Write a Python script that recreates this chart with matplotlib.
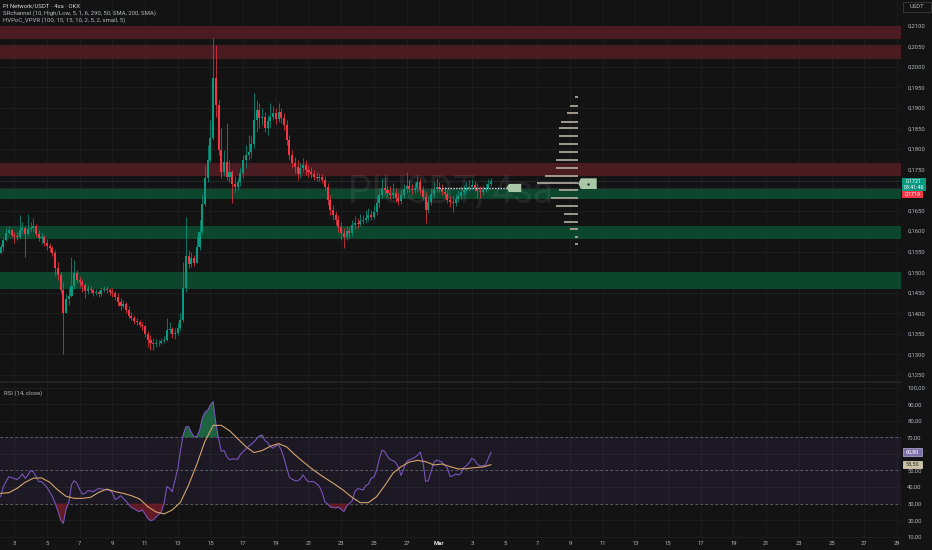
import numpy as np
import matplotlib
matplotlib.use("Agg")
import matplotlib.pyplot as plt
from matplotlib.patches import Rectangle, Polygon

plt.rcParams['font.family'] = ['Roboto', 'DejaVu Sans']

# ─────────────────────────────────────────────
# 4h candles PI/USDT (Feb 2 04:00 -> Mar 4 04:00), open = previous close
# ─────────────────────────────────────────────
first_open = 0.1547
close = [
    0.1561, 0.1578, 0.1595, 0.1603, 0.1590, 0.1588, 0.1586, 0.1603, 0.1608, 0.1593,
    0.1605, 0.1608, 0.1612, 0.1593, 0.1583, 0.1586, 0.1571, 0.1564, 0.1559, 0.1547,
    0.1510, 0.1493, 0.1457, 0.1401, 0.1435, 0.1442, 0.1466, 0.1498, 0.1481, 0.1476,
    0.1469, 0.1454, 0.1459, 0.1457, 0.1449, 0.1452, 0.1447, 0.1457, 0.1459, 0.1457,
    0.1452, 0.1449, 0.1440, 0.1427, 0.1418, 0.1422, 0.1408, 0.1393, 0.1388, 0.1381,
    0.1379, 0.1371, 0.1369, 0.1349, 0.1335, 0.1327, 0.1325, 0.1327, 0.1327, 0.1332,
    0.1335, 0.1359, 0.1362, 0.1349, 0.1352, 0.1364, 0.1384, 0.1461, 0.1539, 0.1520,
    0.1534, 0.1522, 0.1561, 0.1598, 0.1666, 0.1729, 0.1773, 0.1827, 0.1973, 0.1907,
    0.1797, 0.1744, 0.1768, 0.1732, 0.1744, 0.1715, 0.1707, 0.1720, 0.1741, 0.1773,
    0.1785, 0.1793, 0.1812, 0.1871, 0.1895, 0.1875, 0.1878, 0.1851, 0.1868, 0.1878,
    0.1888, 0.1873, 0.1890, 0.1875, 0.1858, 0.1822, 0.1785, 0.1766, 0.1756, 0.1739,
    0.1754, 0.1761, 0.1749, 0.1744, 0.1739, 0.1732, 0.1729, 0.1732, 0.1724, 0.1707,
    0.1676, 0.1651, 0.1639, 0.1627, 0.1610, 0.1595, 0.1586, 0.1600, 0.1595, 0.1615,
    0.1620, 0.1617, 0.1625, 0.1627, 0.1632, 0.1639, 0.1634, 0.1646, 0.1668, 0.1688,
    0.1705, 0.1700, 0.1693, 0.1688, 0.1693, 0.1681, 0.1673, 0.1688, 0.1703, 0.1710,
    0.1703, 0.1700, 0.1705, 0.1720, 0.1700, 0.1683, 0.1651, 0.1671, 0.1690, 0.1703,
    0.1707, 0.1703, 0.1695, 0.1690, 0.1676, 0.1671, 0.1668, 0.1678, 0.1685, 0.1695,
    0.1700, 0.1705, 0.1707, 0.1712, 0.1705, 0.1698, 0.1695, 0.1700, 0.1705, 0.1715, 0.1721,
]
high = [
    0.1569, 0.1583, 0.1608, 0.1612, 0.1605, 0.1598, 0.1598, 0.1639, 0.1622, 0.1612,
    0.1642, 0.1622, 0.1632, 0.1617, 0.1603, 0.1595, 0.1590, 0.1581, 0.1571, 0.1564,
    0.1554, 0.1525, 0.1500, 0.1476, 0.1447, 0.1461, 0.1537, 0.1530, 0.1505, 0.1491,
    0.1483, 0.1474, 0.1469, 0.1466, 0.1461, 0.1459, 0.1457, 0.1464, 0.1466, 0.1466,
    0.1461, 0.1461, 0.1454, 0.1449, 0.1437, 0.1432, 0.1427, 0.1418, 0.1403, 0.1396,
    0.1388, 0.1384, 0.1379, 0.1371, 0.1357, 0.1347, 0.1340, 0.1337, 0.1335, 0.1340,
    0.1345, 0.1388, 0.1379, 0.1366, 0.1364, 0.1376, 0.1401, 0.1525, 0.1634, 0.1554,
    0.1549, 0.1542, 0.1588, 0.1627, 0.1688, 0.1761, 0.1810, 0.1871, 0.2070, 0.2053,
    0.1919, 0.1851, 0.1797, 0.1863, 0.1773, 0.1749, 0.1734, 0.1729, 0.1754, 0.1785,
    0.1810, 0.1834, 0.1832, 0.1936, 0.1919, 0.1912, 0.1900, 0.1890, 0.1883, 0.1912,
    0.1905, 0.1900, 0.1912, 0.1900, 0.1888, 0.1871, 0.1834, 0.1797, 0.1780, 0.1773,
    0.1766, 0.1778, 0.1773, 0.1761, 0.1756, 0.1749, 0.1744, 0.1741, 0.1739, 0.1734,
    0.1717, 0.1688, 0.1664, 0.1649, 0.1639, 0.1622, 0.1608, 0.1612, 0.1610, 0.1627,
    0.1637, 0.1632, 0.1642, 0.1639, 0.1651, 0.1656, 0.1651, 0.1664, 0.1685, 0.1705,
    0.1729, 0.1732, 0.1712, 0.1710, 0.1717, 0.1705, 0.1693, 0.1700, 0.1715, 0.1744,
    0.1724, 0.1715, 0.1720, 0.1734, 0.1729, 0.1710, 0.1695, 0.1685, 0.1705, 0.1720,
    0.1729, 0.1720, 0.1715, 0.1707, 0.1700, 0.1688, 0.1685, 0.1690, 0.1700, 0.1710,
    0.1712, 0.1720, 0.1724, 0.1727, 0.1722, 0.1717, 0.1710, 0.1712, 0.1717, 0.1727, 0.1729,
]
low = [
    0.1544, 0.1552, 0.1576, 0.1593, 0.1586, 0.1571, 0.1578, 0.1583, 0.1595, 0.1537,
    0.1590, 0.1598, 0.1600, 0.1588, 0.1576, 0.1569, 0.1564, 0.1554, 0.1549, 0.1539,
    0.1493, 0.1481, 0.1449, 0.1301, 0.1403, 0.1420, 0.1440, 0.1459, 0.1474, 0.1464,
    0.1452, 0.1437, 0.1447, 0.1449, 0.1442, 0.1444, 0.1440, 0.1442, 0.1452, 0.1449,
    0.1444, 0.1440, 0.1432, 0.1418, 0.1408, 0.1413, 0.1401, 0.1388, 0.1384, 0.1374,
    0.1371, 0.1366, 0.1359, 0.1342, 0.1318, 0.1310, 0.1310, 0.1318, 0.1320, 0.1325,
    0.1327, 0.1332, 0.1352, 0.1340, 0.1337, 0.1347, 0.1359, 0.1379, 0.1452, 0.1510,
    0.1513, 0.1515, 0.1525, 0.1554, 0.1593, 0.1661, 0.1720, 0.1768, 0.1822, 0.1878,
    0.1785, 0.1729, 0.1734, 0.1724, 0.1720, 0.1668, 0.1695, 0.1700, 0.1710, 0.1729,
    0.1754, 0.1773, 0.1778, 0.1802, 0.1841, 0.1851, 0.1858, 0.1841, 0.1834, 0.1854,
    0.1871, 0.1861, 0.1866, 0.1863, 0.1846, 0.1810, 0.1773, 0.1754, 0.1741, 0.1724,
    0.1729, 0.1744, 0.1737, 0.1732, 0.1729, 0.1724, 0.1722, 0.1722, 0.1717, 0.1700,
    0.1664, 0.1639, 0.1627, 0.1615, 0.1598, 0.1578, 0.1559, 0.1578, 0.1583, 0.1588,
    0.1605, 0.1608, 0.1612, 0.1617, 0.1620, 0.1625, 0.1627, 0.1629, 0.1639, 0.1659,
    0.1681, 0.1690, 0.1683, 0.1678, 0.1681, 0.1671, 0.1664, 0.1666, 0.1681, 0.1693,
    0.1695, 0.1690, 0.1693, 0.1695, 0.1690, 0.1676, 0.1620, 0.1644, 0.1664, 0.1683,
    0.1695, 0.1695, 0.1688, 0.1683, 0.1668, 0.1659, 0.1647, 0.1661, 0.1671, 0.1678,
    0.1688, 0.1693, 0.1698, 0.1700, 0.1698, 0.1681, 0.1681, 0.1688, 0.1695, 0.1700, 0.1710,
]

# RSI (14, close), one value per candle
rsi = [
    34.2, 40.3, 43.3, 46.3, 45.7, 45.1, 44.5, 45.9, 47.9, 45.3,
    47.3, 49.9, 49.3, 46.3, 43.3, 43.3, 41.7, 39.8, 37.2, 34.2,
    30.2, 25.8, 20.2, 18.1, 26.6, 30.6, 41.3, 43.9, 42.3, 38.6,
    35.8, 36.2, 37.8, 37.6, 37.2, 38.2, 39.2, 38.8, 38.6, 38.2,
    38.0, 36.6, 32.6, 33.2, 34.8, 33.2, 31.6, 29.4, 27.6, 27.0,
    25.8, 25.2, 26.2, 23.8, 21.2, 19.8, 20.2, 21.8, 23.4, 25.0,
    30.2, 40.3, 39.2, 37.2, 44.3, 50.7, 62.0, 71.4, 76.4, 76.4,
    72.8, 70.4, 70.4, 74.0, 81.5, 85.1, 86.3, 89.5, 91.5, 78.4,
    69.4, 61.6, 62.0, 58.3, 56.5, 56.9, 56.9, 56.7, 59.7, 61.4,
    62.8, 64.6, 65.8, 67.2, 69.2, 70.8, 71.4, 68.0, 66.8, 64.4,
    63.4, 64.8, 65.4, 62.4, 57.3, 51.7, 45.9, 44.7, 43.9, 43.7,
    44.9, 47.3, 44.9, 43.1, 43.3, 43.3, 41.9, 40.3, 36.8, 31.2,
    29.8, 28.0, 27.6, 27.4, 27.8, 26.6, 25.2, 28.4, 30.0, 31.6,
    37.2, 39.0, 38.8, 38.2, 40.9, 41.7, 45.3, 46.1, 49.9, 57.1,
    62.2, 61.4, 58.3, 56.7, 55.9, 54.9, 51.9, 46.9, 51.3, 55.3,
    56.5, 57.1, 57.9, 59.1, 61.2, 55.3, 43.3, 43.9, 49.3, 54.7,
    56.3, 55.7, 55.1, 53.3, 51.3, 46.3, 46.7, 47.9, 47.3, 48.3,
    51.7, 52.9, 54.7, 57.3, 56.3, 53.7, 52.7, 52.9, 53.3, 57.3, 60.8,
]
# RSI-based MA, read every 3rd candle
ma_step = 3
rsi_ma = [
    36.2, 36.6, 39.2, 42.9, 45.3, 45.5, 42.9, 38.2, 34.4, 33.2,
    33.2, 33.8, 36.8, 38.8, 37.2, 36.2, 34.8, 32.8, 28.2, 25.0,
    23.8, 26.2, 30.8, 41.3, 53.7, 67.6, 77.2, 77.2, 74.0, 69.2,
    64.4, 60.8, 62.0, 64.6, 66.2, 64.2, 59.5, 55.3, 51.3, 47.7,
    44.5, 41.3, 37.8, 33.8, 30.6, 30.6, 34.2, 40.9, 48.3, 52.3,
    55.1, 56.1, 55.3, 53.3, 53.9, 52.3, 50.9, 51.1, 51.7, 52.1, 53.5,
]

# SRchannel zones (low, high)
res_zones = [(0.2068, 0.2100), (0.2018, 0.2053), (0.1733, 0.1765)]
sup_zones = [(0.1677, 0.1704), (0.1580, 0.1612), (0.1460, 0.1501)]

# HVPoC_VPVR rows
vp_prices = [0.1926, 0.1905, 0.1888, 0.1866, 0.1851, 0.1832, 0.1812, 0.1793, 0.1773, 0.1754,
             0.1734, 0.1717, 0.1700, 0.1681, 0.1661, 0.1642, 0.1622, 0.1605, 0.1586, 0.1569]
vp_volume = [3, 8, 11, 17, 19, 19, 19, 19, 22, 22, 33, 41, 19, 27, 22, 14, 14, 8, 3, 3]
vp_anchor = 212          # candle index where the profile ends
vp_poc = 0.1716
hv_poc = 0.1706          # recent HV PoC (dotted)
hv_start, hv_end = 161, 185.7

# x axis: day labels every 2 days, Feb 3 00:00 is candle 5
tick_idx = [5 + 12 * k for k in range(28)]
tick_lab = ['3', '5', '7', '9', '11', '13', '15', '17', '19', '21', '23', '25', '27', 'Mar',
            '3', '5', '7', '9', '11', '13', '15', '17', '19', '21', '23', '25', '27', '29']
price_ticks = np.arange(0.125, 0.2101, 0.005)
rsi_ticks = np.arange(10, 101, 10)
# axis labels hidden behind the value boxes
hidden_price = 0.1700
hidden_rsi = 60

# ─────────────────────────────────────────────
BG = '#131313'
GRID = '#1d1d1d'
UP = '#089981'
DOWN = '#f23645'
TXT = '#b2b5be'
W, H = 932, 550

def fx(px):
    return px / W

def fy(py):
    return 1 - py / H

fig = plt.figure(figsize=(W / 100, H / 100), dpi=100, facecolor=BG)
ax = fig.add_axes([0, fy(381), fx(901), 381 / H], facecolor=BG)
ax_r = fig.add_axes([0, fy(538), fx(901), 155 / H], facecolor=BG, sharex=ax)

close = np.array(close)
high = np.array(high)
low = np.array(low)
rsi = np.array(rsi)
n = len(close)
idx = np.arange(n)
opens = np.concatenate([[first_open], close[:-1]])
is_up = close >= opens
cols = np.where(is_up, UP, DOWN)
hi = np.maximum(high, np.maximum(opens, close))
lo = np.minimum(low, np.minimum(opens, close))

# grid
for p in price_ticks:
    ax.axhline(p, color=GRID, lw=0.7, zorder=0.5)
for t in tick_idx:
    ax.axvline(t, color=GRID, lw=0.7, zorder=0.5)
    ax_r.axvline(t, color=GRID, lw=0.7, zorder=0.5)
for v in rsi_ticks:
    ax_r.axhline(v, color=GRID, lw=0.7, zorder=0.5)

# zones
for z0, z1 in res_zones:
    ax.axhspan(z0, z1, color='#4a1c21', lw=0, zorder=1)
for z0, z1 in sup_zones:
    ax.axhspan(z0, z1, color='#0c462d', lw=0, zorder=1)
ax.axhline(0.1722, color='#22272b', lw=0.8, zorder=1)
ax.axhline(0.1704, color='#22272b', lw=0.8, zorder=1)

# watermark
ax.text(0.5, 0.497, 'PIUSDT, 4sa', transform=ax.transAxes, ha='center', va='center',
        fontsize=27, color='white', alpha=0.07, zorder=1.5)

# candles
ax.vlines(idx, lo, hi, colors=cols, lw=0.7, alpha=0.75, zorder=2.5)
body_lo = np.minimum(opens, close)
body_h = np.maximum(np.abs(close - opens), 0.00012)
ax.bar(idx, body_h, bottom=body_lo, width=0.75, color=cols, lw=0, zorder=3)

# volume profile
vp_volume = np.array(vp_volume, dtype=float)
vp_scale = 0.3675
ax.hlines(vp_prices, vp_anchor - vp_volume * vp_scale, vp_anchor, color='#aaa59a', lw=1.3, zorder=3)
tag = '#a8c8a8'
ax.add_patch(Polygon([(vp_anchor, vp_poc), (vp_anchor + 1, 0.17285), (vp_anchor + 6.8, 0.17285),
                      (vp_anchor + 6.8, 0.17025), (vp_anchor + 1, 0.17025)],
                     closed=True, fc=tag, ec='none', zorder=4))
ax.plot([vp_anchor + 3.6], [0.1714], marker='o', ms=0.8, color='#333', zorder=5)
ax.plot([hv_start, hv_end], [hv_poc, hv_poc], color='#d1d4dc', lw=1.0, ls=(0, (1, 1)), zorder=4)
ax.add_patch(Polygon([(hv_end, hv_poc), (hv_end + 0.9, 0.1715), (hv_end + 5.4, 0.1715),
                      (hv_end + 5.4, 0.1695), (hv_end + 0.9, 0.1695)],
                     closed=True, fc=tag, ec='none', zorder=4))

ax.set_ylim(0.12350, 0.21627)
ax.set_xlim(-0.24, 330.5)
ax.set_yticks(price_ticks)
ax.set_yticklabels(['' if abs(p - hidden_price) < 1e-6 else f"{p:.4f}".replace('.', ',')
                    for p in price_ticks])
ax.tick_params(axis='y', left=False, labelleft=False, right=True, labelright=True,
               length=0, pad=4.5, labelsize=4.2, labelcolor=TXT)
ax.tick_params(axis='x', bottom=False, labelbottom=False, length=0)

# RSI pane
ax_r.axhspan(30, 70, color='#7e57c2', alpha=0.1, lw=0, zorder=1)
for v in (70, 50, 30):
    ax_r.axhline(v, color='#787b86', lw=0.6, ls=(0, (3, 3)), alpha=0.8, zorder=1.5)
ax_r.fill_between(idx, rsi, 70, where=rsi > 70, interpolate=True, color='#1f6b47', alpha=0.9, lw=0, zorder=2)
ax_r.fill_between(idx, rsi, 30, where=rsi < 30, interpolate=True, color='#6b1d26', alpha=0.9, lw=0, zorder=2)
ax_r.plot(idx, rsi, color='#7e57c2', lw=0.75, zorder=3)
ax_r.plot(idx[::ma_step], rsi_ma, color='#d4a46c', lw=0.8, zorder=3)
ax_r.set_ylim(9.27, 102.75)
ax_r.set_yticks(rsi_ticks)
ax_r.set_yticklabels(['' if v == hidden_rsi else f"{v:.2f}".replace('.', ',') for v in rsi_ticks])
ax_r.tick_params(axis='y', left=False, labelleft=False, right=True, labelright=True,
                 length=0, pad=4.5, labelsize=4.2, labelcolor=TXT)
ax_r.set_xticks(tick_idx)
ax_r.set_xticklabels(tick_lab)
ax_r.tick_params(axis='x', length=0, pad=2.3, labelsize=4.2, labelcolor=TXT)
for lab in ax_r.get_xticklabels():
    if lab.get_text() == 'Mar':
        lab.set_color('#e0e3eb')
        lab.set_fontweight('bold')

for a in (ax, ax_r):
    for s in a.spines.values():
        s.set_visible(False)

# pane separator
fig.add_artist(plt.Line2D([0, fx(901)], [fy(382), fy(382)], transform=fig.transFigure,
                          color='#262626', lw=1.2))

# legend texts
fig.text(fx(3), fy(6), 'PI Network/USDT · 4sa · OKX', fontsize=4.3, color='#d1d4dc', va='center')
fig.text(fx(3), fy(13.5), 'SRchannel (10, High/Low, 5, 1, 6, 290, 50, SMA, 200, SMA)',
         fontsize=4.3, color=TXT, va='center')
fig.text(fx(3), fy(20.5), 'HVPoC_VPVR (100, 15, 15, 10, 2, 5, 2, small, 5)',
         fontsize=4.3, color=TXT, va='center')
fig.text(fx(3.5), fy(393), 'RSI (14, close)', fontsize=4.3, color=TXT, va='center')

# USDT box
fig.add_artist(Rectangle((fx(903), fy(12)), fx(28), 10 / H, transform=fig.transFigure,
                         fc=BG, ec='#3a3a3a', lw=0.6))
fig.text(fx(917), fy(7), 'USDT', fontsize=4.2, color=TXT, ha='center', va='center')

# last price boxes
fig.add_artist(Rectangle((fx(902), fy(190.7)), fx(24), 12.6 / H, transform=fig.transFigure,
                         fc=UP, ec='none'))
fig.text(fx(914), fy(181.3), '0,1721', fontsize=3.9, color='white', ha='center', va='center')
fig.text(fx(914), fy(187.3), '03:41:46', fontsize=3.9, color='white', ha='center', va='center')
fig.add_artist(Rectangle((fx(902), fy(197.5)), fx(21), 6.8 / H, transform=fig.transFigure,
                         fc=DOWN, ec='none'))
fig.text(fx(912.5), fy(194.2), '0,1719', fontsize=3.9, color='white', ha='center', va='center')

# RSI value boxes
fig.add_artist(Rectangle((fx(902.7), fy(455.7)), fx(19.6), 7.4 / H, transform=fig.transFigure,
                         fc='#7d6fa8', ec='#b8aed8', lw=0.5))
fig.text(fx(912.5), fy(452), '60,80', fontsize=4.0, color='white', ha='center', va='center')
fig.add_artist(Rectangle((fx(902.7), fy(467.5)), fx(19.6), 6.8 / H, transform=fig.transFigure,
                         fc='#cbc3a3', ec='#e0dac0', lw=0.5))
fig.text(fx(912.5), fy(464.2), '53,50', fontsize=4.0, color='#222222', ha='center', va='center')

plt.savefig('out.png', dpi=100, facecolor=BG)
plt.close()
